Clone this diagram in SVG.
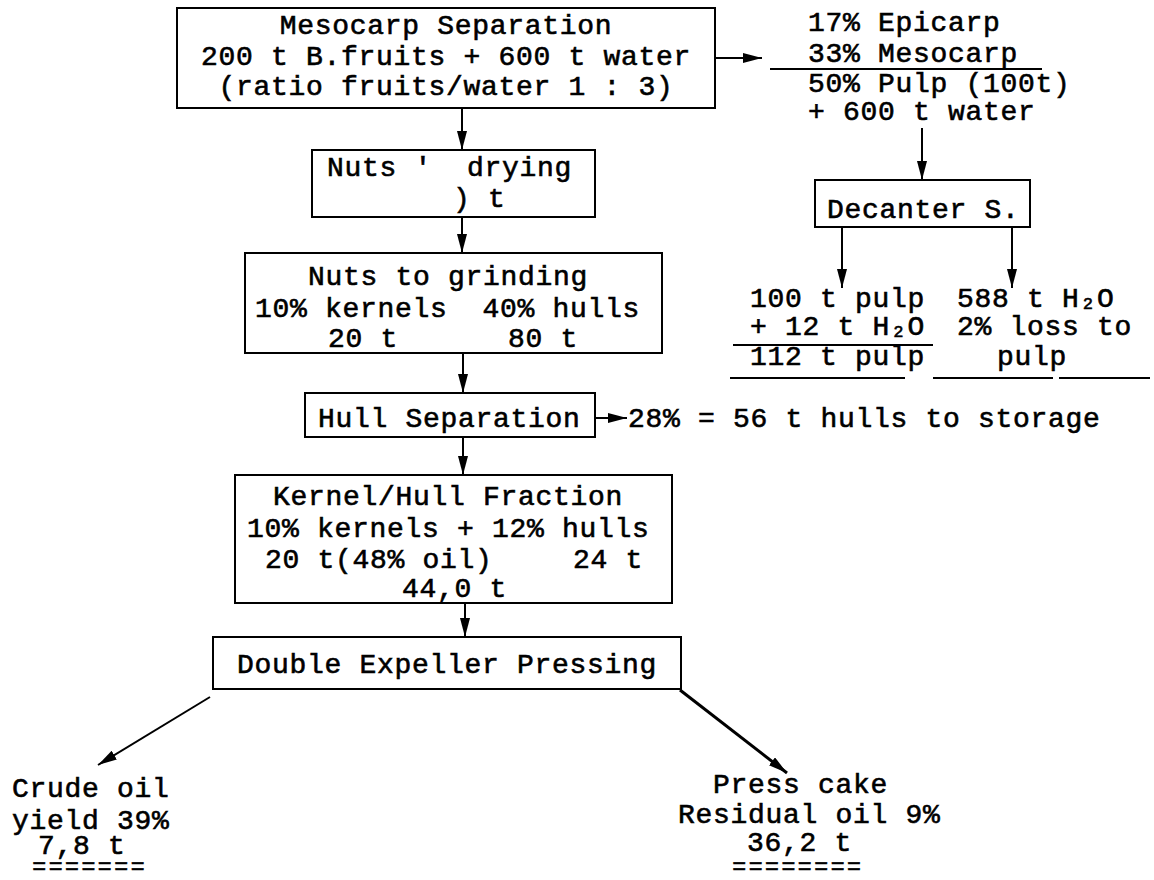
<svg xmlns="http://www.w3.org/2000/svg" width="1154" height="880" viewBox="0 0 1154 880">
<style>
text{font-family:"Liberation Mono","DejaVu Sans Mono",monospace;font-size:28px;letter-spacing:0.7px;fill:#000;stroke:#000;stroke-width:0.6px;white-space:pre}
.eq{font-size:24px;letter-spacing:2px;stroke-width:0.3px}
.box{fill:none;stroke:#000;stroke-width:2}
.c{stroke:#000;stroke-width:2;fill:none}
.m{text-anchor:middle}
</style>
<defs>
<marker id="ah" markerUnits="userSpaceOnUse" markerWidth="20" markerHeight="12" refX="19" refY="5" orient="auto">
<path d="M0,0 L19,5 L0,10 Z" fill="#000"/>
</marker>
</defs>
<g id="connectors">
<line class="c" x1="715" y1="58" x2="762" y2="58" marker-end="url(#ah)"/>
<line class="c" x1="462" y1="108" x2="462" y2="150" marker-end="url(#ah)"/>
<line class="c" x1="462" y1="217" x2="462" y2="253" marker-end="url(#ah)"/>
<line class="c" x1="463" y1="353" x2="463" y2="393" marker-end="url(#ah)"/>
<line class="c" x1="595" y1="418" x2="627" y2="418" marker-end="url(#ah)"/>
<line class="c" x1="463" y1="437" x2="463" y2="475" marker-end="url(#ah)"/>
<line class="c" x1="465" y1="603" x2="465" y2="637" marker-end="url(#ah)"/>
<line class="c" x1="210" y1="697" x2="98" y2="765" marker-end="url(#ah)"/>
<line class="c" style="stroke-width:3" x1="680" y1="690" x2="787" y2="773" marker-end="url(#ah)"/>
<line class="c" x1="922" y1="128" x2="922" y2="180" marker-end="url(#ah)"/>
<line class="c" x1="842" y1="227" x2="842" y2="288" marker-end="url(#ah)"/>
<line class="c" x1="1012" y1="227" x2="1012" y2="288" marker-end="url(#ah)"/>
</g>
<g id="mesocarp">
<rect class="box" x="177" y="8" width="538" height="100"/>
<text class="m" x="446" y="34">Mesocarp Separation</text>
<text class="m" x="446" y="65">200 t B.fruits + 600 t water</text>
<text class="m" x="446" y="95">(ratio fruits/water 1 : 3)</text>
</g>
<g id="pulp-split">
<text x="808" y="31">17% Epicarp</text>
<text x="808" y="62">33% Mesocarp</text>
<line class="c" x1="770" y1="69" x2="1042" y2="69"/>
<text x="808" y="92">50% Pulp (100t)</text>
<text x="808" y="120">+ 600 t water</text>
</g>
<g id="decanter">
<rect class="box" x="815" y="180" width="215" height="47"/>
<text x="827" y="218">Decanter S.</text>
</g>
<g id="decanter-out">
<text x="750" y="307">100 t pulp</text>
<text x="957" y="307">588 t H₂O</text>
<text x="750" y="335">+ 12 t H₂O</text>
<text x="957" y="335">2% loss to</text>
<line class="c" x1="733" y1="345" x2="933" y2="345"/>
<text x="750" y="365">112 t pulp</text>
<text x="997" y="365">pulp</text>
<line class="c" x1="730" y1="378" x2="1150" y2="378" stroke-dasharray="175 28 120 6 95"/>
</g>
<g id="nuts-drying">
<rect class="box" x="312" y="150" width="283" height="67"/>
<text x="327" y="176">Nuts '  drying</text>
<text x="453" y="207">) t</text>
</g>
<g id="nuts-grinding">
<rect class="box" x="245" y="253" width="417" height="100"/>
<text x="308" y="285">Nuts to grinding</text>
<text x="255" y="317">10% kernels  40% hulls</text>
<text x="328" y="347">20 t</text>
<text x="508" y="347">80 t</text>
</g>
<g id="hull-separation">
<rect class="box" x="305" y="393" width="290" height="44"/>
<text x="318" y="427">Hull Separation</text>
</g>
<g id="hulls-storage">
<text x="628" y="427">28% = 56 t hulls to storage</text>
</g>
<g id="kernel-hull">
<rect class="box" x="235" y="475" width="437" height="128"/>
<text x="273" y="505">Kernel/Hull Fraction</text>
<text x="247" y="537">10% kernels + 12% hulls</text>
<text x="265" y="568">20 t(48% oil)</text>
<text x="573" y="568">24 t</text>
<text x="402" y="597">44,0 t</text>
</g>
<g id="expeller">
<rect class="box" x="213" y="637" width="468" height="52"/>
<text x="237" y="673">Double Expeller Pressing</text>
</g>
<g id="crude-oil">
<text x="12" y="797">Crude oil</text>
<text x="12" y="829">yield 39%</text>
<text x="38" y="854">7,8 t</text>
<text class="eq" x="32" y="874">=======</text>
</g>
<g id="press-cake">
<text x="713" y="793">Press cake</text>
<text x="678" y="823">Residual oil 9%</text>
<text x="747" y="851">36,2 t</text>
<text class="eq" x="732" y="874">========</text>
</g>
</svg>
